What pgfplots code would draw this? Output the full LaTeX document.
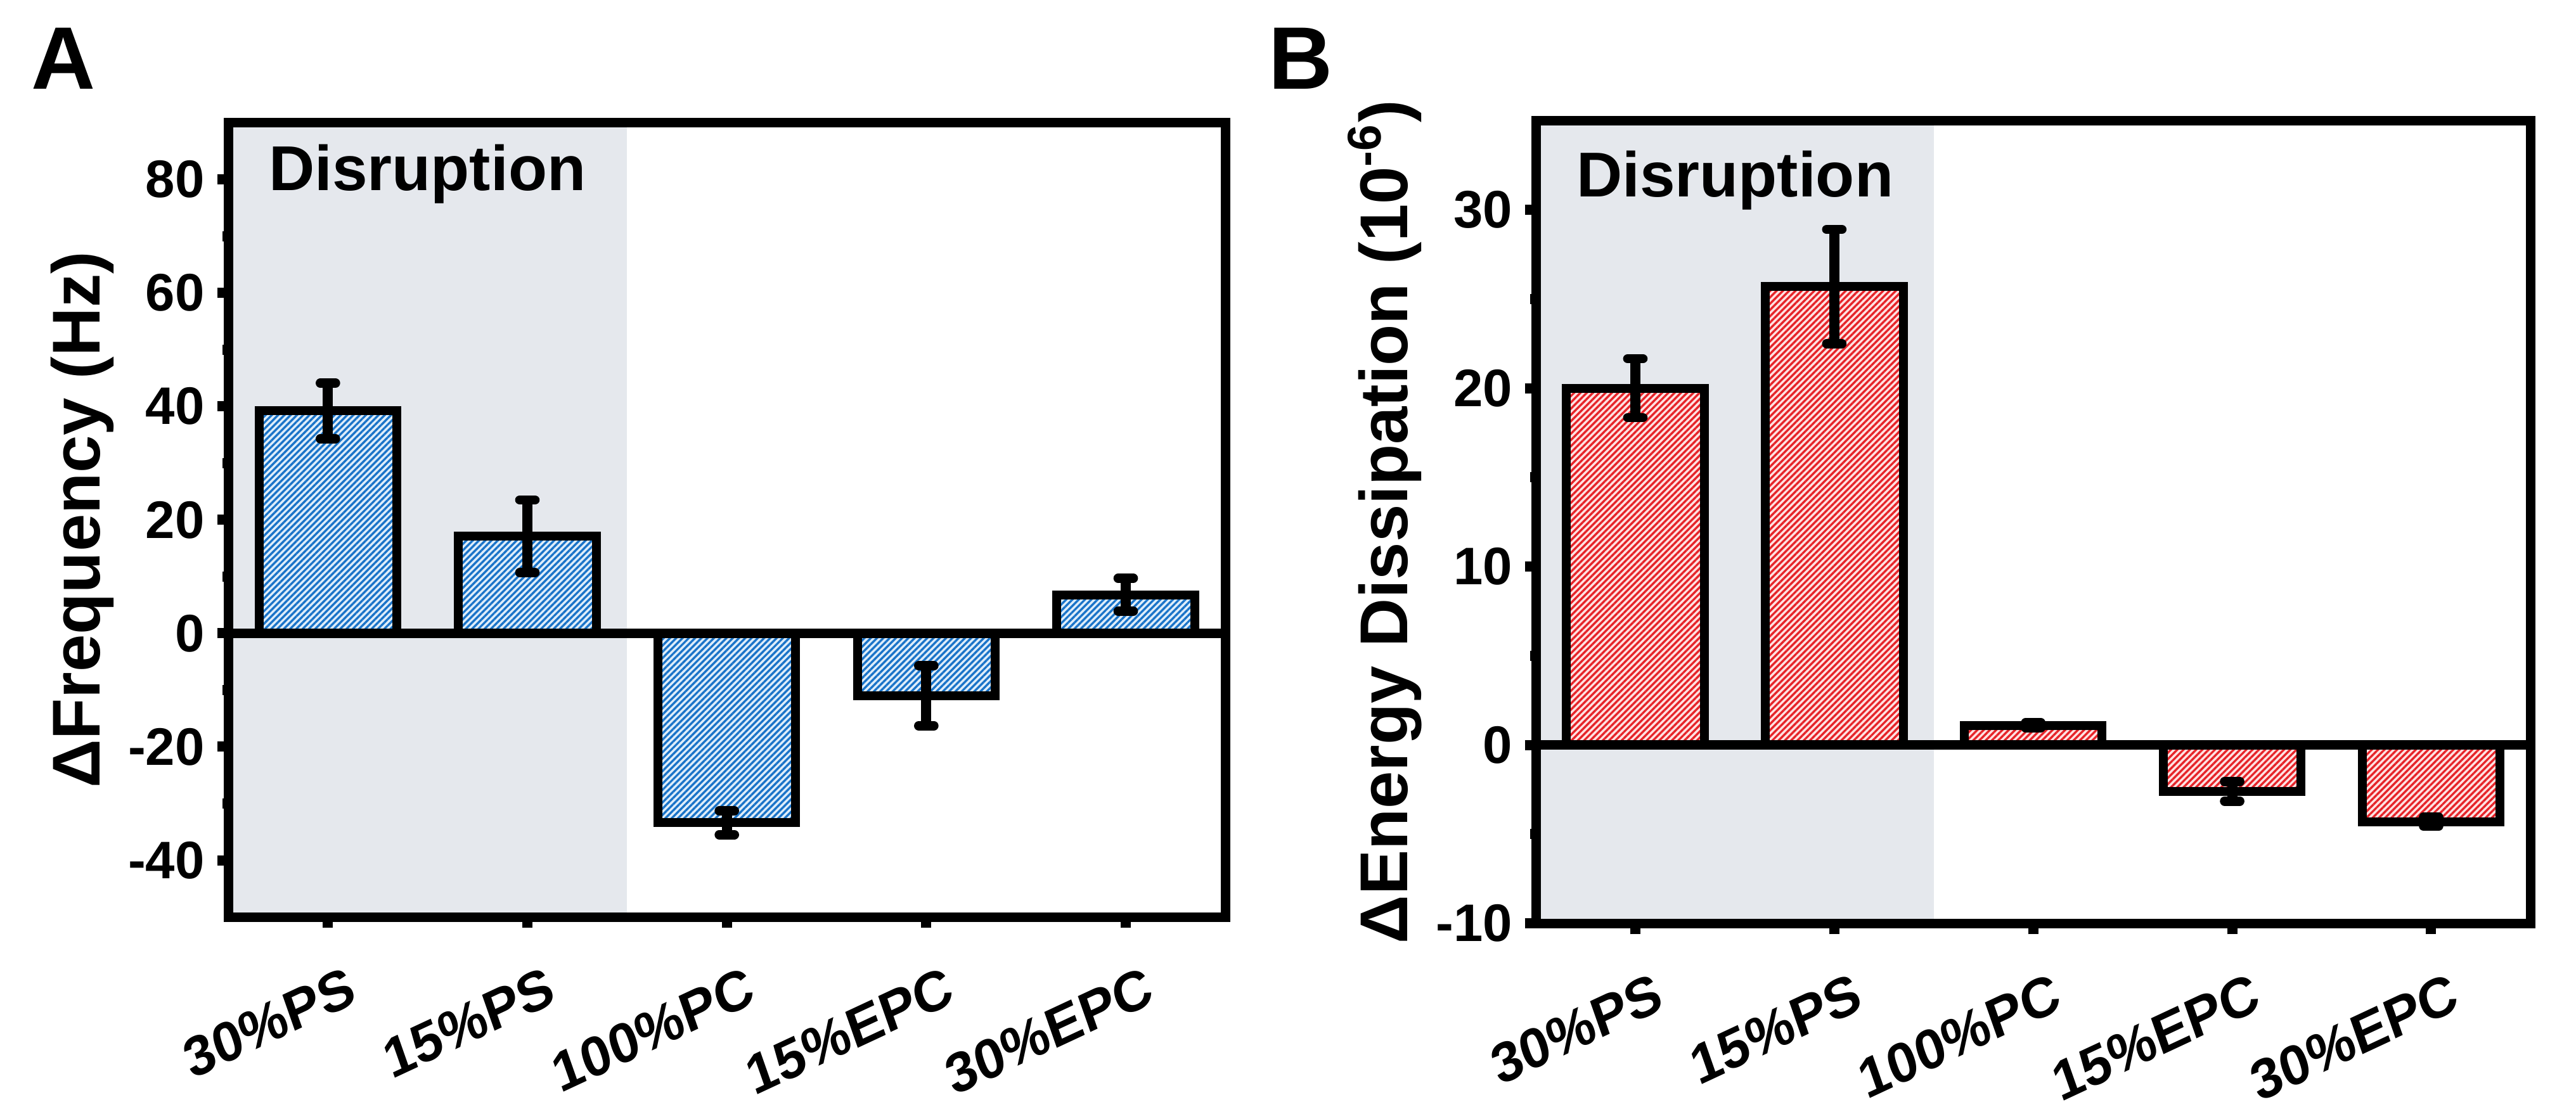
\documentclass[border=0pt]{standalone}
\usepackage{pgfplots}
\pgfplotsset{compat=1.18}
\usetikzlibrary{patterns.meta}
\usepackage{fontspec}
\setmainfont{Liberation Sans}
\newfontfamily\slfont[FakeSlant=0.1]{Liberation Sans}

\definecolor{disgray}{RGB}{229,232,237}
\definecolor{blueL}{RGB}{25,115,200}
\definecolor{blueBG}{RGB}{222,237,250}
\definecolor{redL}{RGB}{230,35,40}
\definecolor{redBG}{RGB}{255,226,226}

\pgfplotsset{
  panel/.style={
    scale only axis,
    axis on top,
    anchor=south west,
    xmin=-0.5, xmax=4.5,
    xtick={0,1,2,3,4},
    xticklabels={30\%PS,15\%PS,100\%PC,15\%EPC,30\%EPC},
    tick align=outside,
    xtick pos=left, ytick pos=left,
    axis line style={line width=2.25pt},
    major tick length=2.6pt, minor tick length=1.3pt,
    every tick/.style={black, line width=2.4pt},
    minor y tick num=1,
    /pgf/number format/assume math mode=true,
    yticklabel style={font=\fontsize{12.5}{12.5}\selectfont\bfseries, inner sep=0pt, xshift=-2.8pt},
    xticklabel style={font=\slfont\fontsize{13}{13}\selectfont\bfseries, inner sep=0pt,
      xshift=3.5pt, yshift=-9pt, rotate=25, anchor=north east},
    ylabel style={font=\fontsize{16}{16}\selectfont\bfseries,
      at={(axis description cs:-0.129,0.5)}, anchor=base},
  },
  bars/.style n args={2}{
    ybar, bar width=32.6pt, draw=black, line width=2.1pt,
    preaction={fill=#2},
    pattern={Lines[angle=45,distance=1.05pt,line width=0.5pt]}, pattern color=#1,
    error bars/.cd, y dir=both, y explicit,
    error bar style={line width=2.4pt, black},
    error mark options={rotate=90, mark size=1.8pt, line width=2.2pt, line cap=round, black},
  },
}

\begin{document}
\begin{tikzpicture}
\useasboundingbox (0,0) rectangle (609.6pt,263.55pt);

\begin{axis}[panel, at={(54pt,46.5pt)}, width=236pt, height=188pt,
  ymin=-50, ymax=90, ytick={-40,-20,0,20,40,60,80},
  ylabel={ΔFrequency (Hz)}]
\fill[disgray] (axis cs:-0.5,-50) rectangle (axis cs:1.5,90);
\node[anchor=base west, inner sep=0pt, font=\fontsize{15}{15}\selectfont\bfseries]
  at (rel axis cs:0.04,0.915) {Disruption};
\addplot[bars={blueL}{blueBG}] coordinates {
  (0,39.2) +- (0,4.9)
  (1,17.1) +- (0,6.4)
  (2,-33.4) +- (0,2.1)
  (3,-11.0) +- (0,5.3)
  (4,6.8) +- (0,2.9)
};
\draw[line width=2.25pt] (axis cs:-0.5,0) -- (axis cs:4.5,0);
\end{axis}

\begin{axis}[panel, at={(363.45pt,45pt)}, width=235.4pt, height=190pt,
  ymin=-10, ymax=35, ytick={-10,0,10,20,30},
  ylabel={ΔEnergy Dissipation (10\textsuperscript{-6})}]
\fill[disgray] (axis cs:-0.5,-10) rectangle (axis cs:1.5,35);
\node[anchor=base west, inner sep=0pt, font=\fontsize{15}{15}\selectfont\bfseries]
  at (rel axis cs:0.04,0.905) {Disruption};
\addplot[bars={redL}{redBG}] coordinates {
  (0,20.0) +- (0,1.65)
  (1,25.7) +- (0,3.2)
  (2,1.1) +- (0,0.15)
  (3,-2.6) +- (0,0.55)
  (4,-4.3) +- (0,0.25)
};
\draw[line width=2.25pt] (axis cs:-0.5,0) -- (axis cs:4.5,0);
\end{axis}

\node[anchor=base west, inner sep=0pt, font=\fontsize{21}{21}\selectfont\bfseries] at (7.2pt,242.55pt) {A};
\node[anchor=base west, inner sep=0pt, font=\fontsize{21}{21}\selectfont\bfseries] at (300pt,242.55pt) {B};
\end{tikzpicture}
\end{document}
